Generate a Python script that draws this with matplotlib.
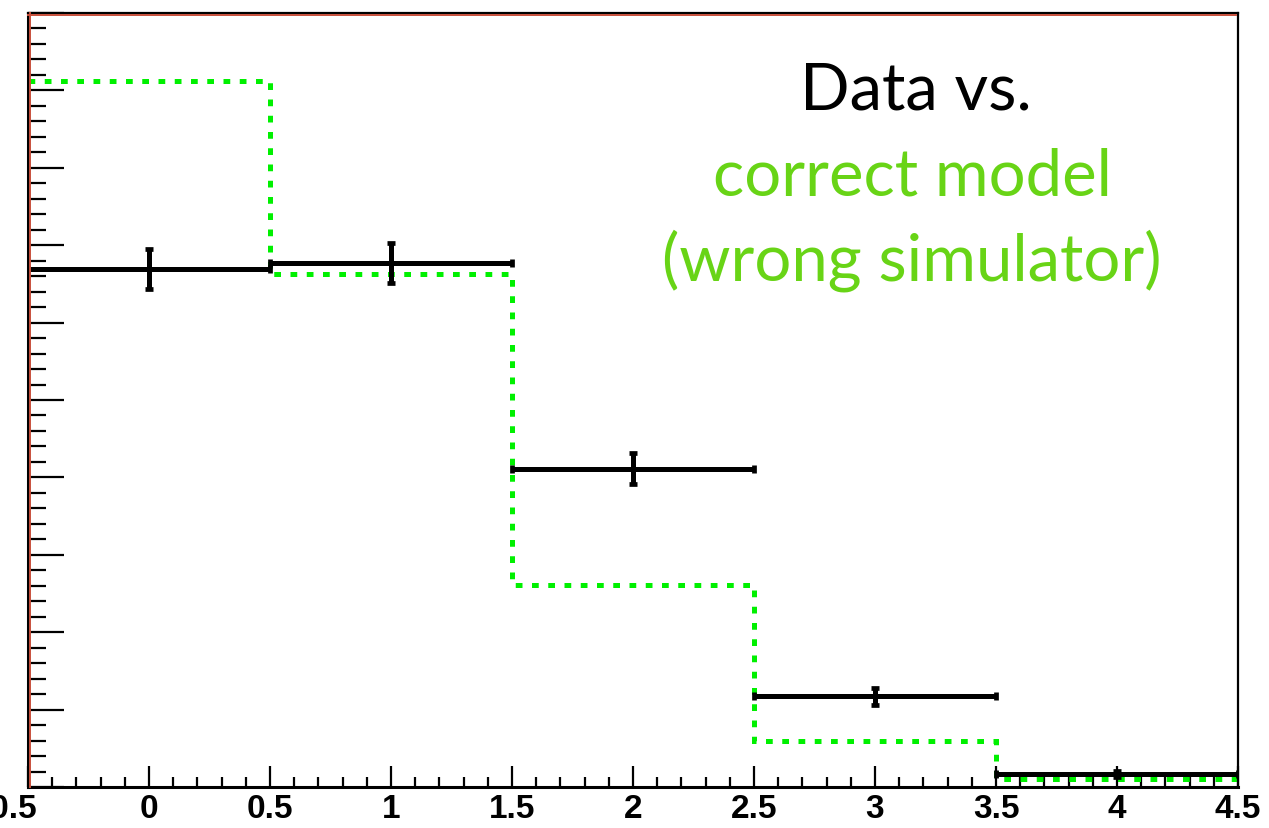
import matplotlib
matplotlib.use("Agg")
import matplotlib.pyplot as plt
from matplotlib.ticker import MultipleLocator, NullFormatter
from matplotlib.transforms import offset_copy

# bin edges and contents
edges = [-0.5, 0.5, 1.5, 2.5, 3.5, 4.5]
centers = [0, 1, 2, 3, 4]
data_counts = [669, 677, 411, 117, 17]
data_errors = [26, 26, 20, 11, 4]
model_counts = [912, 663, 261, 59, 10]

x_ticks = [-0.5, 0, 0.5, 1, 1.5, 2, 2.5, 3, 3.5, 4, 4.5]
x_labels = ["-0.5", "0", "0.5", "1", "1.5", "2", "2.5", "3", "3.5", "4", "4.5"]

W, H = 1269, 829
fig = plt.figure(figsize=(W / 100, H / 100), dpi=100)
ax = fig.add_axes([28 / W, (H - 788) / H, (1238 - 28) / W, (788 - 14) / H])

# model histogram, dotted green line, no outer edges
ax.stairs(model_counts, edges, baseline=None, color="#00f000",
          linewidth=3.6, linestyle=(0, (1.35, 1.9)), zorder=2)

# data points with x and y error bars
ax.errorbar(centers, data_counts, xerr=0.5, yerr=data_errors, fmt="none",
            ecolor="black", elinewidth=3.6, capsize=2.9, capthick=3.4, zorder=3)

ax.set_xlim(-0.5, 4.5)
ax.set_ylim(0, 1000)

lab_font = dict(fontfamily="Liberation Sans", fontweight="bold", fontsize=24)
tick_pad = 4.5

# first label is drawn on its own, shifted left so the figure edge cuts it
ax.set_xticks(x_ticks)
ax.set_xticklabels([""] + x_labels[1:], **lab_font)
ax.annotate(x_labels[0], xy=(x_ticks[0], 0), xycoords=("data", "axes fraction"),
            xytext=(-14, -tick_pad), textcoords="offset points",
            ha="center", va="top", annotation_clip=False, **lab_font)

ax.xaxis.set_minor_locator(MultipleLocator(0.1))
ax.yaxis.set_major_locator(MultipleLocator(100))
ax.yaxis.set_minor_locator(MultipleLocator(20))
ax.yaxis.set_major_formatter(NullFormatter())

ax.tick_params(axis="x", which="major", direction="in", length=15, width=1.6, pad=tick_pad)
ax.tick_params(axis="x", which="minor", direction="in", length=7.5, width=1.6)
ax.tick_params(axis="y", which="major", direction="in", length=26, width=1.6)
ax.tick_params(axis="y", which="minor", direction="in", length=13, width=1.6)

ax.spines["left"].set_linewidth(2.2)
ax.spines["bottom"].set_linewidth(2.2)
ax.spines["top"].set_linewidth(1.6)
ax.spines["right"].set_linewidth(1.6)

# thin red frame lines just inside the top and left edges
top_tr = offset_copy(ax.transAxes, fig=fig, x=0, y=-2, units="dots")
left_tr = offset_copy(ax.transAxes, fig=fig, x=2, y=0, units="dots")
ax.plot([0, 0.998], [1, 1], color="#c8503c", lw=1.4, transform=top_tr, clip_on=False, zorder=4)
ax.plot([0, 0], [0, 1], color="#c8503c", lw=1.4, transform=left_tr, clip_on=False, zorder=4)

# annotation
txt_font = dict(family="Lato", fontsize=47, ha="center", va="baseline")
fig.text(916 / W, 1 - 110 / H, "Data vs.", color="black", **txt_font)
fig.text(912 / W, 1 - 195 / H, "correct model", color="#68d416", **txt_font)
fig.text(912 / W, 1 - 280 / H, "(wrong simulator)", color="#68d416", **txt_font)

fig.savefig("out.png", dpi=100)
